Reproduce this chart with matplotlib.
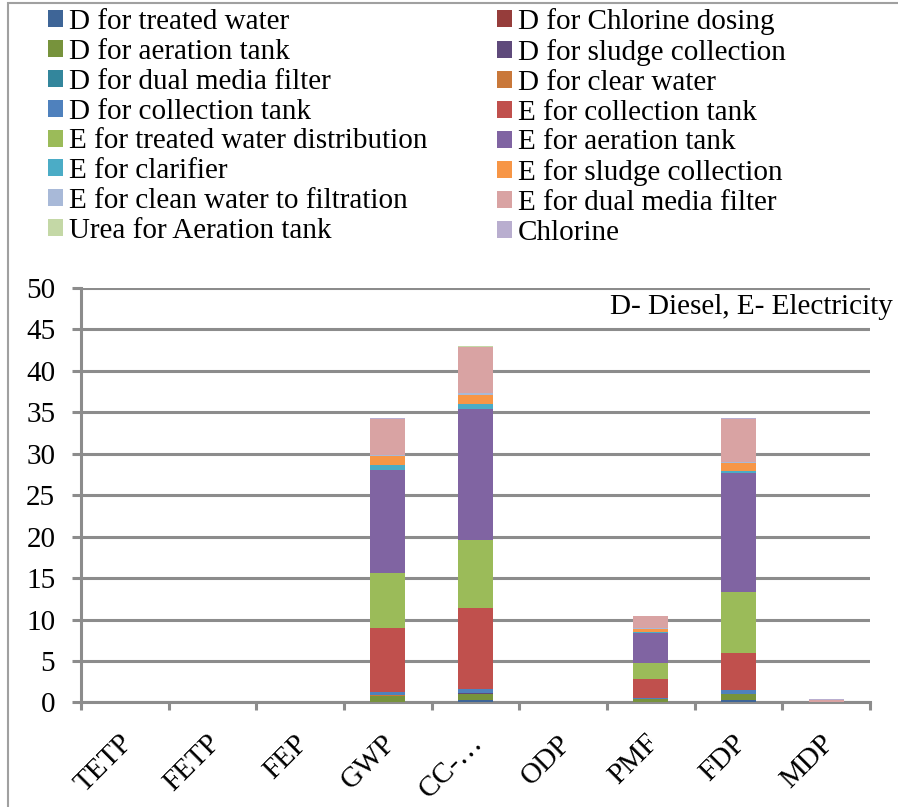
import matplotlib
matplotlib.use("Agg")
import matplotlib.pyplot as plt
import matplotlib.patches as mpatches
from matplotlib.transforms import ScaledTranslation
import numpy as np

plt.rcParams['font.family'] = ['Liberation Serif', 'DejaVu Serif']

categories = ["TETP", "FETP", "FEP", "GWP", "CC-…", "ODP", "PMF", "FDP", "MDP"]

series_names = [
    "D for treated water", "D for Chlorine dosing",
    "D for aeration tank", "D for sludge collection",
    "D for dual media filter", "D for clear water",
    "D for collection tank", "E for collection tank",
    "E for treated water distribution", "E for aeration tank",
    "E for clarifier", "E for sludge collection",
    "E for clean water to filtration", "E for dual media filter",
    "Urea for Aeration tank", "Chlorine",
]

d_treated_water   = [0, 0, 0, 0.05, 0.30, 0, 0.05, 0.25, 0]
d_chlorine_dosing = [0, 0, 0, 0.02, 0.02, 0, 0.01, 0.02, 0]
d_aeration_tank   = [0, 0, 0, 0.72, 0.75, 0, 0.30, 0.75, 0]
d_sludge_coll     = [0, 0, 0, 0.02, 0.03, 0, 0.01, 0.02, 0]
d_dual_media      = [0, 0, 0, 0.02, 0.03, 0, 0.01, 0.02, 0]
d_clear_water     = [0, 0, 0, 0.01, 0.01, 0, 0.00, 0.01, 0]
d_collection_tank = [0, 0, 0, 0.45, 0.45, 0, 0.20, 0.40, 0]
e_collection_tank = [0, 0, 0, 7.69, 9.75, 0, 2.20, 4.45, 0]
e_treated_distrib = [0, 0, 0, 6.64, 8.20, 0, 1.93, 7.45, 0]
e_aeration_tank   = [0, 0, 0, 12.48, 15.90, 0, 3.66, 14.25, 0]
e_clarifier       = [0, 0, 0, 0.60, 0.60, 0, 0.15, 0.30, 0]
e_sludge_coll     = [0, 0, 0, 1.00, 1.05, 0, 0.30, 0.95, 0]
e_clean_water     = [0, 0, 0, 0.10, 0.25, 0, 0.10, 0.15, 0]
e_dual_media      = [0, 0, 0, 4.40, 5.60, 0, 1.45, 5.15, 0.25]
urea_aeration     = [0, 0, 0, 0.02, 0.02, 0, 0.01, 0.02, 0.05]
chlorine          = [0, 0, 0, 0.05, 0.08, 0, 0.05, 0.10, 0.10]

series_values = [
    d_treated_water, d_chlorine_dosing, d_aeration_tank, d_sludge_coll,
    d_dual_media, d_clear_water, d_collection_tank, e_collection_tank,
    e_treated_distrib, e_aeration_tank, e_clarifier, e_sludge_coll,
    e_clean_water, e_dual_media, urea_aeration, chlorine,
]

colors = [
    "#3E6597", "#963D3B", "#77933C", "#5F4A7B",
    "#33869C", "#C9783A", "#4F81BD", "#C0504D",
    "#9BBB59", "#8064A2", "#4BACC6", "#F79646",
    "#A8B9D8", "#D9A3A3", "#C4D8A6", "#B9AECF",
]

yticks = [0, 5, 10, 15, 20, 25, 30, 35, 40, 45, 50]

FS = 21
W, H = 898, 807
fig = plt.figure(figsize=(W / 100, H / 100), dpi=100)
ax = fig.add_axes([81 / W, 1 - 702.4 / H, (870 - 81) / W, (702.4 - 288) / H])

x = np.arange(len(categories))
bottom = np.zeros(len(categories))
handles = []
for name, vals, c in zip(series_names, series_values, colors):
    v = np.array(vals, dtype=float)
    b = ax.bar(x, v, width=0.40, bottom=bottom, color=c, label=name,
               edgecolor='none', zorder=3)
    handles.append(b)
    bottom += v

ax.set_xlim(-0.5, len(categories) - 0.5)
ax.set_ylim(0, 50)
ax.set_yticks(yticks)
ax.set_yticklabels([str(t) for t in yticks], fontsize=FS)
ax.yaxis.grid(True, color="#8C8C8C", linewidth=2.2, zorder=0)
ax.set_axisbelow(True)

for s in ['top', 'right']:
    ax.spines[s].set_visible(False)
for s in ['left', 'bottom']:
    ax.spines[s].set_color("#8C8C8C")
    ax.spines[s].set_linewidth(2.2)

ax.tick_params(axis='y', length=6.5, width=2.2, color="#8C8C8C", pad=12)

ax.set_xticks(x)
ax.set_xticklabels(categories, fontsize=FS, rotation=45, ha='right')
ax.set_xticks(np.arange(-0.5, len(categories), 1), minor=True)
ax.tick_params(axis='x', which='major', length=0, pad=20)
ax.tick_params(axis='x', which='minor', length=6, width=2.2, color="#8C8C8C")
offset = ScaledTranslation(13 / 100, 0, fig.dpi_scale_trans)
for lab in ax.get_xticklabels():
    lab.set_transform(lab.get_transform() + offset)

fig.text(610 / W, 1 - 307 / H, "D- Diesel, E- Electricity", fontsize=FS,
         ha='left', va='center')

order = list(range(0, 16, 2)) + list(range(1, 16, 2))
leg = fig.legend([handles[i] for i in order], [series_names[i] for i in order],
                 ncol=2, loc='upper left', bbox_to_anchor=(41 / W, 1 - 1 / H),
                 frameon=False, fontsize=FS, handlelength=0.52, handleheight=0.52,
                 handletextpad=0.2, labelspacing=0.13, columnspacing=2.36,
                 borderaxespad=0, borderpad=0.25)

border = mpatches.Rectangle((8 / W, -0.1), 1.2, 1 - 3 / H + 0.1,
                            transform=fig.transFigure, fill=False,
                            edgecolor="#A0A0A0", linewidth=1.5)
fig.patches.append(border)

fig.savefig("out.png", dpi=100)
